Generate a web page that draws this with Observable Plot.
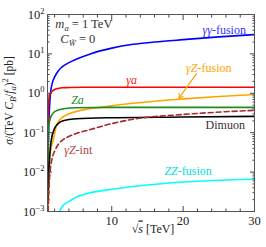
<!DOCTYPE html>
<html><head><meta charset="utf-8">
<script src="https://cdn.jsdelivr.net/npm/d3@7"></script>
<script src="https://cdn.jsdelivr.net/npm/@observablehq/plot@0.6"></script>
<style>
body{margin:0;background:#fff;}
</style></head><body><div id="chart"></div>
<script>
// ---- data (sqrt(s) in TeV, sigma in pb) ----
const ggX = [1.05,1.1,1.2,1.3,1.42,1.7,2,2.5,3,4,5,7,10,13,16,20,25,30];
const ggY = [0.003,0.03,0.2,0.5,1.0,1.9,2.6,3.7,4.6,6,7.3,10,14,17.5,20,23,27,31];
const gaX = [1.03,1.06,1.1,1.15,1.25,1.42,1.7,2,2.5,3,4,6,10,20,30];
const gaY = [0.003,0.1,0.3,0.55,0.8,1.0,1.15,1.25,1.33,1.38,1.4,1.42,1.43,1.43,1.43];
const gzfX = [1.1,1.3,1.5,1.85,2.2,2.8,4.2,6,8.4,13,20,25,30];
const gzfY = [0.001,0.02,0.04,0.07,0.14,0.22,0.31,0.38,0.44,0.56,0.72,0.83,0.93];
const zaX = [1.05,1.1,1.14,1.3,1.7,2.4,3.5,5,10,20,30];
const zaY = [0.005,0.05,0.1,0.2,0.3,0.37,0.41,0.43,0.44,0.44,0.44];
const dimX = [1.05,1.14,1.3,1.5,2,2.5,3.2,5,10,20,30];
const dimY = [0.002,0.007,0.025,0.06,0.13,0.17,0.2,0.225,0.24,0.25,0.26];
const gzintX = [1.08,1.2,1.4,1.7,2,2.5,3,4,5,7,10,13,20,30];
const gzintY = [0.001,0.004,0.012,0.024,0.034,0.05,0.063,0.08,0.095,0.12,0.17,0.22,0.29,0.37];
const zzX = [2.6,3,4,5.2,7,9.8,13,20,30];
const zzY = [0.0009,0.0013,0.0018,0.0024,0.003,0.0036,0.0043,0.0056,0.0066];

const seriesNames = ["γγ-fusion","γa","γZ-fusion","Za","Dimuon","γZ-int","ZZ-fusion"];
const seriesX = [ggX, gaX, gzfX, zaX, dimX, gzintX, zzX];
const seriesY = [ggY, gaY, gzfY, zaY, dimY, gzintY, zzY];
const seriesColor = ["#0000ff","#ff0000","#ffa500","#1e8c1e","#000000","#a52a2a","#00ffff"];
const seriesDash = [null,null,null,null,null,"5,3",null];

// labels
const labelColor = ["#3333ff","#ee2222","#ffa500","#1e8c1e","#333333","#b04444","#00e0e0"];
const labelX = [28.8, 12.8, 23.6, 5.2, 25.9, 5.3, 20.7];
const labelY = [40, 2.1, 4.3, 0.66, 0.16, 0.037, 0.0105];
const labelAnchor = ["end","middle","middle","middle","middle","middle","middle"];

const arrowX1 = [21.9], arrowY1 = [3.2], arrowX2 = [19.4], arrowY2 = [0.74];

const noteText = ["m_a = 1 TeV", "C_W = 0"];
const noteX = [2.1, 2.8];
const noteY = [58, 24];

const yMajor = [1e-3,1e-2,1e-1,1,10,100];
const yExp = ["−3","−2","−1","0","1","2"];
const yMinor = d3.range(-3,2).flatMap(e => d3.range(2,10).map(m => m*Math.pow(10,e)));
const xMajor = [10,20,30];
const xMinor = d3.range(2,30,2).filter(v => v % 10 !== 0);

const marks = [];
seriesNames.forEach((name, i) => {
  const rows = seriesX[i].map((x, j) => ({x, y: seriesY[i][j]}));
  marks.push(Plot.line(rows, {x: "x", y: "y", stroke: seriesColor[i], strokeWidth: 1.6,
    strokeDasharray: seriesDash[i], curve: "monotone-x", clip: true}));
});
const labRows = seriesNames.map((t, i) => ({t, x: labelX[i], y: labelY[i], c: labelColor[i], a: labelAnchor[i]}));
labRows.forEach(r => marks.push(Plot.text([r], {x: "x", y: "y", text: "t", fill: r.c, textAnchor: r.a, fontSize: 12})));
marks.push(Plot.arrow([0], {x1: () => arrowX1[0], y1: () => arrowY1[0], x2: () => arrowX2[0], y2: () => arrowY2[0],
  stroke: "#ffa500", strokeWidth: 1.2, headLength: 6}));
noteText.forEach((t, i) => marks.push(Plot.text([t], {x: () => noteX[i], y: () => noteY[i], text: d => d, textAnchor: "start", fill: "#333", fontSize: 12.5})));

// ticks (inward)
for (const anchor of ["left","right"]) {
  marks.push(Plot.axisY(yMajor, {anchor, tickSize: -5, tickFormat: () => "", label: null, stroke: "#444"}));
  marks.push(Plot.axisY(yMinor, {anchor, tickSize: -2.5, tickFormat: () => "", label: null, stroke: "#444"}));
}
for (const anchor of ["bottom","top"]) {
  marks.push(Plot.axisX(xMajor, {anchor, tickSize: -5, tickFormat: () => "", label: null, stroke: "#444"}));
  marks.push(Plot.axisX(xMinor, {anchor, tickSize: -2.5, tickFormat: () => "", label: null, stroke: "#444"}));
}
marks.push(Plot.axisY(yMajor, {anchor: "left", tickSize: 0, tickPadding: 3, tickFormat: (d, i) => "10^" + yExp[yMajor.indexOf(d)], label: null, fontSize: 12.5, fill: "#222"}));
marks.push(Plot.axisX(xMajor, {anchor: "bottom", tickSize: 0, tickPadding: 5, tickFormat: d => String(d), label: null, fontSize: 12.5, fill: "#222"}));
marks.push(Plot.frame({stroke: "#555", strokeWidth: 1}));
marks.push(Plot.text(["YLABEL"], {x: () => 1, y: () => 0.66, text: d => d, rotate: -90, dx: -38, fontSize: 11.5, fill: "#222"}));
marks.push(Plot.text(["XLABEL"], {frameAnchor: "bottom", text: d => d, dy: 21, dx: 2, fontSize: 12, fill: "#222"}));

const plot = Plot.plot({
  width: 266, height: 247,
  marginLeft: 47, marginRight: 12, marginTop: 14, marginBottom: 36,
  style: {fontFamily: "'Liberation Serif', serif", fontSize: "12px", background: "white", color: "#222", overflow: "visible"},
  x: {domain: [1, 30], axis: null},
  y: {type: "log", domain: [1e-3, 1e2], axis: null},
  marks
});
document.getElementById("chart").appendChild(plot);

const it = s => `<tspan font-style="italic">${s}</tspan>`;
const sub = s => `<tspan font-style="italic" font-size="8.5" dy="3">${s}</tspan>`;
const html = {
  "γγ-fusion": it("γγ") + "-fusion",
  "γa": it("γa"),
  "γZ-fusion": it("γZ") + "-fusion",
  "Za": it("Za"),
  "γZ-int": it("γZ") + "-int",
  "ZZ-fusion": it("ZZ") + "-fusion",
  "m_a = 1 TeV": it("m") + sub("a") + '<tspan dy="-3"> = 1 TeV</tspan>',
  "C_W = 0": it("C") + sub("W̃") + '<tspan dy="-3"> = 0</tspan>',
  "YLABEL": it("σ") + "/(TeV " + it("C") + sub("B") + '<tspan dy="-3">/</tspan>' + it("f") + sub("a") + '<tspan dy="-3">)</tspan><tspan font-size="8.5" dy="-5">2</tspan><tspan dy="5"> [pb]</tspan>',
  "XLABEL": "√" + '<tspan text-decoration="overline" font-style="italic">s</tspan> [TeV]'
};
d3.select(plot).selectAll("text").each(function() {
  const t = this.textContent;
  if (html[t] !== undefined) { this.innerHTML = html[t]; return; }
  const m = /^10\^(.+)$/.exec(t);
  if (m) this.innerHTML = `10<tspan font-size="8.5" dy="-5">${m[1]}</tspan>`;
});
</script></body></html>
